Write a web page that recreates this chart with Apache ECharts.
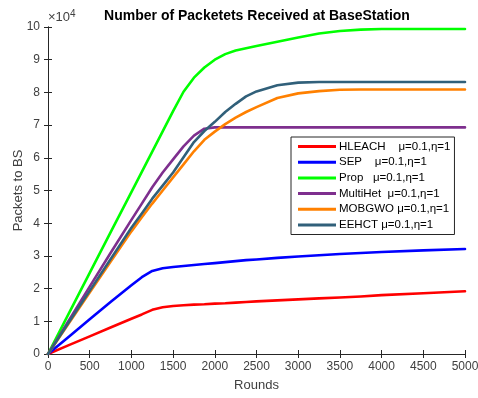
<!DOCTYPE html>
<html><head><meta charset="utf-8">
<script src="https://cdn.jsdelivr.net/npm/echarts@6/dist/echarts.min.js"></script>
<style>html,body{margin:0;padding:0;background:#fff}#c{width:478px;height:398px}</style>
</head><body><div id="c"></div>
<script>
var rounds  = [0,250,500,750,1000,1125,1250,1375,1500,1625,1750,1875,2000,2125,2250,2375,2500,2750,3000,3250,3500,3750,4000,4500,5000];
var hleach  = [0,0.27,0.54,0.81,1.08,1.21,1.35,1.43,1.47,1.49,1.51,1.52,1.54,1.55,1.57,1.59,1.61,1.64,1.67,1.70,1.73,1.76,1.80,1.86,1.92];
var sep     = [0,0.53,1.06,1.59,2.10,2.35,2.54,2.62,2.66,2.69,2.72,2.75,2.78,2.81,2.84,2.87,2.89,2.94,2.98,3.02,3.06,3.09,3.12,3.17,3.21];
var prop    = [0,1.24,2.48,3.72,4.95,5.57,6.19,6.81,7.43,8.02,8.45,8.76,9.00,9.17,9.28,9.35,9.42,9.55,9.68,9.80,9.88,9.92,9.94,9.94,9.94];
var multiHet= [0,1.03,2.06,3.09,4.10,4.60,5.10,5.55,5.95,6.35,6.68,6.89,6.93,6.93,6.93,6.93,6.93,6.93,6.93,6.93,6.93,6.93,6.93,6.93,6.93];
var mobgwo  = [0,0.94,1.88,2.82,3.75,4.18,4.60,5.00,5.40,5.80,6.20,6.55,6.80,7.03,7.23,7.40,7.55,7.83,7.97,8.04,8.08,8.09,8.09,8.09,8.09];
var eehct   = [0,0.97,1.93,2.90,3.86,4.30,4.75,5.15,5.55,6.02,6.48,6.82,7.10,7.40,7.65,7.88,8.03,8.22,8.30,8.32,8.32,8.32,8.32,8.32,8.32];
var names = ['HLEACH    \u03bc=0.1,\u03b7=1','SEP    \u03bc=0.1,\u03b7=1','Prop   \u03bc=0.1,\u03b7=1','MultiHet  \u03bc=0.1,\u03b7=1','MOBGWO \u03bc=0.1,\u03b7=1','EEHCT \u03bc=0.1,\u03b7=1'];
var colors = ['#ff0000','#0000ff','#00ff00','#7e2f8e','#ff8000','#31607a'];
var seriesData = [hleach, sep, prop, multiHet, mobgwo, eehct];

function pairs(v){ return rounds.map(function(r,i){ return [r, v[i]]; }); }

var chart = echarts.init(document.getElementById('c'), null, {renderer:'canvas'});
var font = 'Liberation Sans, Arial, Helvetica, sans-serif';
var axisCol = '#262626';
var labCol = '#404040';
var series = seriesData.map(function(v,i){
  return {name: names[i], type:'line', data: pairs(v), symbol:'none', smooth:false,
    lineStyle:{color: colors[i], width:2.6, join:'round', cap:'round'}, itemStyle:{color: colors[i]}, animation:false, z: 2+i};
});
chart.setOption({
  animation:false,
  backgroundColor:'#fff',
  title:{text:'Number of Packetets Received at BaseStation', left:252, top:4, textAlign:'center',
    textStyle:{fontFamily:font, fontSize:14, fontWeight:'bold', color:'#000'}},
  grid:{left:48, right:13, top:27, bottom:44, show:false, containLabel:false, outerBoundsMode:'none'},
  legend:{orient:'vertical', left:291, top:137, padding:[3,4,3,7], itemGap:2.7, itemWidth:38, itemHeight:3,
    icon:'rect', borderColor:'#262626', borderWidth:1, backgroundColor:'#fff',
    textStyle:{fontFamily:font, fontSize:11.5, color:'#000', lineHeight:13, padding:[0,0,0,-2]},
    data: names},
  xAxis:[{type:'value', min:0, max:5000, interval:500, position:'bottom',
    name:'Rounds', nameLocation:'middle', nameGap:25, nameMoveOverlap:false, nameTextStyle:{fontFamily:font, fontSize:13, color:labCol},
    axisLine:{show:true, lineStyle:{color:axisCol, width:1}}, axisTick:{inside:true, length:4, lineStyle:{color:axisCol}},
    axisLabel:{fontFamily:font, fontSize:12, color:labCol, margin:7, formatter:function(v){return String(v);}}, splitLine:{show:false}},
   {type:'value', min:0, max:5000, interval:500, position:'top',
    axisLine:{show:true, lineStyle:{color:axisCol, width:1}}, axisTick:{inside:true, length:4, lineStyle:{color:axisCol}},
    axisLabel:{show:false}, splitLine:{show:false}}],
  yAxis:[{type:'value', min:0, max:10, interval:1, position:'left',
    name:'Packets to BS', nameLocation:'middle', nameGap:23, nameMoveOverlap:false, nameTextStyle:{fontFamily:font, fontSize:13, color:labCol},
    axisLine:{show:true, lineStyle:{color:axisCol, width:1}}, axisTick:{inside:true, length:4, lineStyle:{color:axisCol}},
    axisLabel:{fontFamily:font, fontSize:12, color:labCol, margin:8}, splitLine:{show:false}},
   {type:'value', min:0, max:10, interval:1, position:'right',
    axisLine:{show:true, lineStyle:{color:axisCol, width:1}}, axisTick:{inside:true, length:4, lineStyle:{color:axisCol}},
    axisLabel:{show:false}, splitLine:{show:false}}],
  graphic:[{type:'text', left:48, top:9, style:{text:'\u00d710{s|4}', rich:{s:{fontSize:10, verticalAlign:'top', fontFamily:font, fill:labCol, padding:[0,0,6,0]}},
    font:'13px '+font, fill:labCol}}],
  series: series
});
</script></body></html>
